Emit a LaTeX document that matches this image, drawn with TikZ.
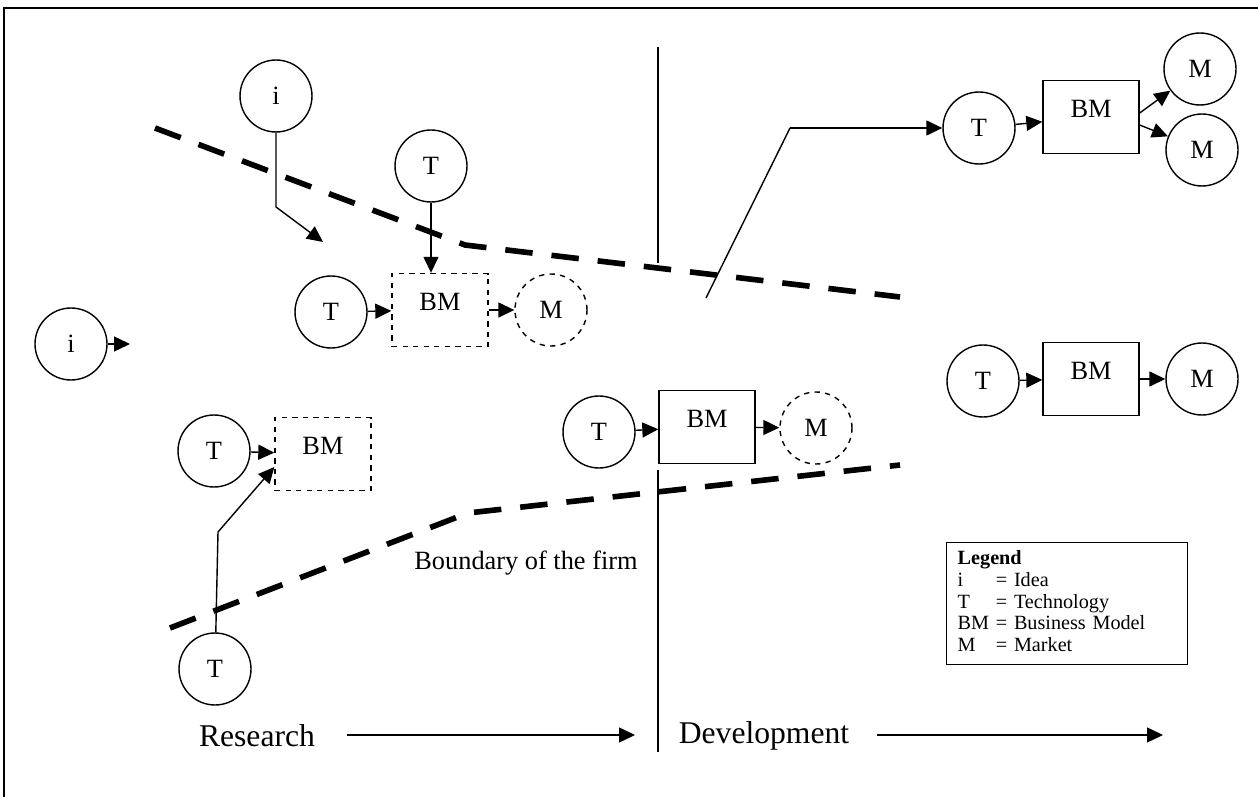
\documentclass[tikz,border=0pt]{standalone}
\usepackage{fontspec}
\setmainfont{Liberation Serif}
\usepackage{tikz}
\usetikzlibrary{arrows.meta}

\begin{document}
\begin{tikzpicture}[
    x=0.02cm, y=-0.02cm,
    every node/.style={font=\fontsize{15}{17}\selectfont},
    entity/.style={circle, draw, line width=0.8pt, minimum size=1.44cm, inner sep=0pt},
    maybe/.style={entity, dashed},
    model/.style={rectangle, draw, line width=0.8pt, minimum width=1.92cm, minimum height=1.46cm, text depth=0.32cm},
    draft/.style={model, dashed},
    flow/.style={-{Triangle[length=0.32cm, width=0.3cm]}, line width=0.8pt},
    boundary/.style={line width=3.2pt, dash pattern=on 0.55cm off 0.38cm}
]
    \useasboundingbox (0,0) rectangle (1258,797);
    \draw[line width=1pt] (4,797) -- (4,8) -- (1258,8);

    % Research side
    \node[entity] (i0) at (71,344) {i};
    \node[entity] (i1) at (276,96) {i};
    \node[entity] (t2) at (431,166) {T};
    \node[entity] (t1) at (331,312) {T};
    \node[draft] (bm1) at (440,310) {BM};
    \node[maybe] (m1) at (551,310) {M};
    \node[entity] (t3) at (214,451) {T};
    \node[draft] (bm2) at (323,454) {BM};
    \node[entity] (t4) at (215,669) {T};
    \node[entity] (t5) at (599,432) {T};
    \node[model] (bm3) at (707,427) {BM};
    \node[maybe] (m3) at (816,428) {M};

    % Development side
    \node[entity] (t6) at (979,128) {T};
    \node[model] (bm4) at (1091,117) {BM};
    \node[entity] (m4) at (1200,69) {M};
    \node[entity] (m5) at (1202,150) {M};
    \node[entity] (t7) at (983,381) {T};
    \node[model] (bm5) at (1091,379) {BM};
    \node[entity] (m6) at (1202,379) {M};

    \coordinate (i0end) at (130,344);
    \coordinate (i1bend) at (276,207);
    \coordinate (i1end) at (323,242);
    \coordinate (t4bend) at (218,532);
    \coordinate (lstart) at (706,298);
    \coordinate (lbend) at (790,128);

    % Connections
    \foreach \a/\b in {t1/bm1, t3/bm2, t5/bm3, t6/bm4, t7/bm5} {
        \draw[flow] (\a) -- (\b);
    }
    \foreach \a/\b in {bm1/m1, bm3/m3, bm5/m6} {
        \draw[flow] (\a) -- (\b);
    }
    \draw[flow] (i0) -- (i0end);
    \draw[flow] (i1) -- (i1bend) -- (i1end);
    \draw[flow] (t2.south) -- (t2.south |- bm1.north);
    \draw[flow] (t4) -- (t4bend) -- ([yshift=-0.26cm]bm2.west);
    \draw[line width=0.8pt] (lstart) -- (lbend);
    \draw[flow] (lbend) -- (lbend -| t6.west);
    \draw[flow] ([yshift=0.08cm]bm4.east) -- (m4);
    \draw[flow] ([yshift=-0.16cm]bm4.east) -- (m5);

    % Boundary of the firm
    \draw[boundary] (155,128) -- (465,245) -- (900,297);
    \draw[boundary] (170,628) -- (468,513) -- (900,465);
    \node (firm) at (526,563) {Boundary of the firm};

    % Research / Development axis
    \draw[line width=0.8pt] (658,47) -- (658,263);
    \draw[line width=0.8pt] (658,470) -- (658,752);
    \node[font=\fontsize{18}{20}\selectfont] (research) at (257,736) {Research};
    \node[font=\fontsize{18}{20}\selectfont] (devel) at (764,736) {Development};
    \coordinate (rstart) at (347,735);
    \coordinate (rend) at (635,735);
    \coordinate (dstart) at (877,735);
    \coordinate (dend) at (1163,735);
    \draw[flow] (rstart) -- (rend);
    \draw[flow] (dstart) -- (dend);

    % Legend
    \node[draw, line width=0.8pt, anchor=north west, inner xsep=0.22cm, inner ysep=0.12cm,
          text width=4.38cm, minimum height=2.3cm, align=left,
          font=\fontsize{11.5}{12.5}\selectfont] (legend) at (946,542) {%
        \begin{tabular}{@{}l@{ }l@{}}
            \multicolumn{2}{@{}l@{}}{\textbf{Legend}}\\
            i & = Idea\\
            T & = Technology\\
            BM & = Business Model\\
            M & = Market
        \end{tabular}};
\end{tikzpicture}
\end{document}
